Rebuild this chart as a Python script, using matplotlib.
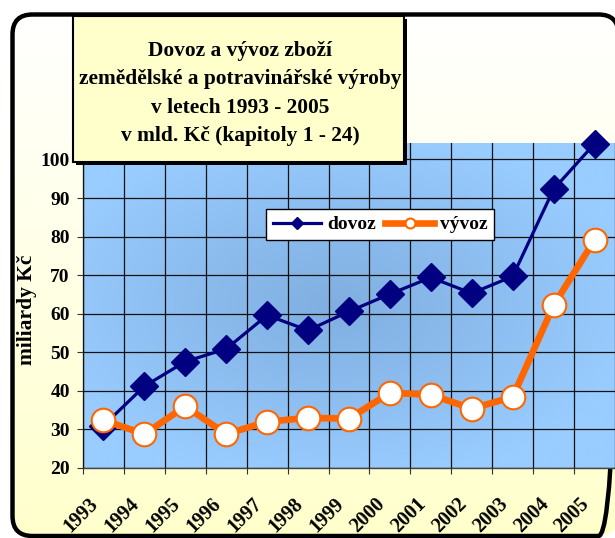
import numpy as np
import matplotlib.pyplot as plt
import matplotlib.transforms as mtransforms
from matplotlib.patches import FancyBboxPatch, Rectangle

plt.rcParams['font.family'] = ['Liberation Serif', 'DejaVu Serif']
plt.rcParams['font.weight'] = 'bold'

# data (mld. Kč)
years = ['1993', '1994', '1995', '1996', '1997', '1998', '1999',
         '2000', '2001', '2002', '2003', '2004', '2005']
dovoz = [31.0, 41.2, 47.6, 50.9, 59.6, 55.7, 60.6, 65.1, 69.4, 65.3, 69.7, 92.3, 104.1]
vyvoz = [32.4, 28.8, 36.0, 28.8, 32.0, 33.0, 32.8, 39.5, 39.0, 35.4, 38.4, 62.2, 79.1]
title = ('Dovoz a vývoz zboží\nzemědělské a potravinářské výroby\n'
         'v letech 1993 - 2005\nv mld. Kč (kapitoly 1 - 24)')

W, H = 615, 538
fig = plt.figure(figsize=(W / 100, H / 100), dpi=100)

# background: rounded frame with white -> light yellow gradient
bg = fig.add_axes([0, 0, 1, 1])
bg.axis('off')
t = np.linspace(0, 1, 256)
col = np.ones((256, 1, 3))
col[:, 0, 2] = 1 - 0.2 * t
im = bg.imshow(col, extent=(12, 619, 536, 14), aspect='auto', interpolation='bilinear')
frame = FancyBboxPatch((12.5, 14.5), 606, 521.5, boxstyle='round,pad=0,rounding_size=20',
                       fc='none', ec='black', lw=3.2, zorder=3)
bg.add_patch(frame)
im.set_clip_path(frame)
bg.set_xlim(0, W)
bg.set_ylim(H, 0)

# plot area
ax = fig.add_axes([83 / W, (H - 468) / H, (W - 83) / W, (468 - 143.3) / H])
x = np.arange(len(years)) + 0.5
ymin, ymax = 20, 104.2

gx, gy = np.meshgrid(np.linspace(-1, 1, 300), np.linspace(-1, 1, 300))
r = np.clip(np.sqrt((gx + 0.05) ** 2 + (gy * 1.05) ** 2) / 1.15, 0, 1)[..., None]
c_mid = np.array([128, 174, 224]) / 255
c_edge = np.array([153, 204, 255]) / 255
ax.imshow(c_mid + (c_edge - c_mid) * r, extent=(0, len(years), ymin, ymax),
          aspect='auto', interpolation='bilinear', zorder=0)

ax.plot(x, dovoz, color='#000080', lw=2.3, marker='D', ms=14, label='dovoz',
        zorder=3, clip_on=False)
ax.plot(x, vyvoz, color='#FF6600', lw=4.8, marker='o', ms=17, mfc='white',
        mec='#FF6600', mew=1.5, label='vývoz', zorder=4, clip_on=False)

ax.set_xlim(0, len(years))
ax.set_ylim(ymin, ymax)
ax.set_yticks(range(20, 101, 10))
ax.set_xticks(np.arange(len(years) + 1))
ax.set_xticklabels([])
ax.grid(True, color='#111111', lw=0.9, zorder=1)
ax.set_axisbelow(False)

ax.set_xticks(x, minor=True)
ax.set_xticklabels(years, minor=True, rotation=45, ha='right', va='center',
                   rotation_mode='anchor', fontsize=14.5)
ax.tick_params(axis='x', which='minor', length=0, pad=24)
ax.tick_params(axis='x', which='major', length=4, direction='out', color='#333333')
ax.tick_params(axis='y', length=4, pad=5.5, labelsize=14, color='#333333')
shift = mtransforms.ScaledTranslation(-8 / 100, 0, fig.dpi_scale_trans)
for lbl in ax.get_xticklabels(minor=True):
    lbl.set_transform(lbl.get_transform() + shift)

for s in ['top', 'right']:
    ax.spines[s].set_visible(False)
for s in ['left', 'bottom']:
    ax.spines[s].set_color('#444444')
    ax.spines[s].set_linewidth(1)

ax.set_ylabel('miliardy Kč', fontsize=15.5, fontweight='bold')
ax.yaxis.set_label_coords(-0.086, 0.486)

leg = ax.legend(loc='center', bbox_to_anchor=(380 / W, 1 - 224.5 / H),
                bbox_transform=fig.transFigure, ncol=2, fontsize=14, frameon=True,
                fancybox=False, framealpha=1, edgecolor='black', markerscale=0.42,
                handlelength=2.5, handletextpad=0.3, columnspacing=0.5,
                borderpad=0.35)
leg.get_frame().set_linewidth(1.0)

# title box on top
ov = fig.add_axes([0, 0, 1, 1], zorder=5)
ov.axis('off')
ov.set_xlim(0, W)
ov.set_ylim(H, 0)
ov.add_patch(Rectangle((76, 19), 331, 146, fc='black', lw=0))
ov.add_patch(Rectangle((73, 16), 331, 146, fc='#FFFFCC', ec='black', lw=1.5))
ov.text(240, 93.5, title, ha='center', va='center', fontsize=15.4, linespacing=1.57)

fig.savefig('out.png', dpi=100)
